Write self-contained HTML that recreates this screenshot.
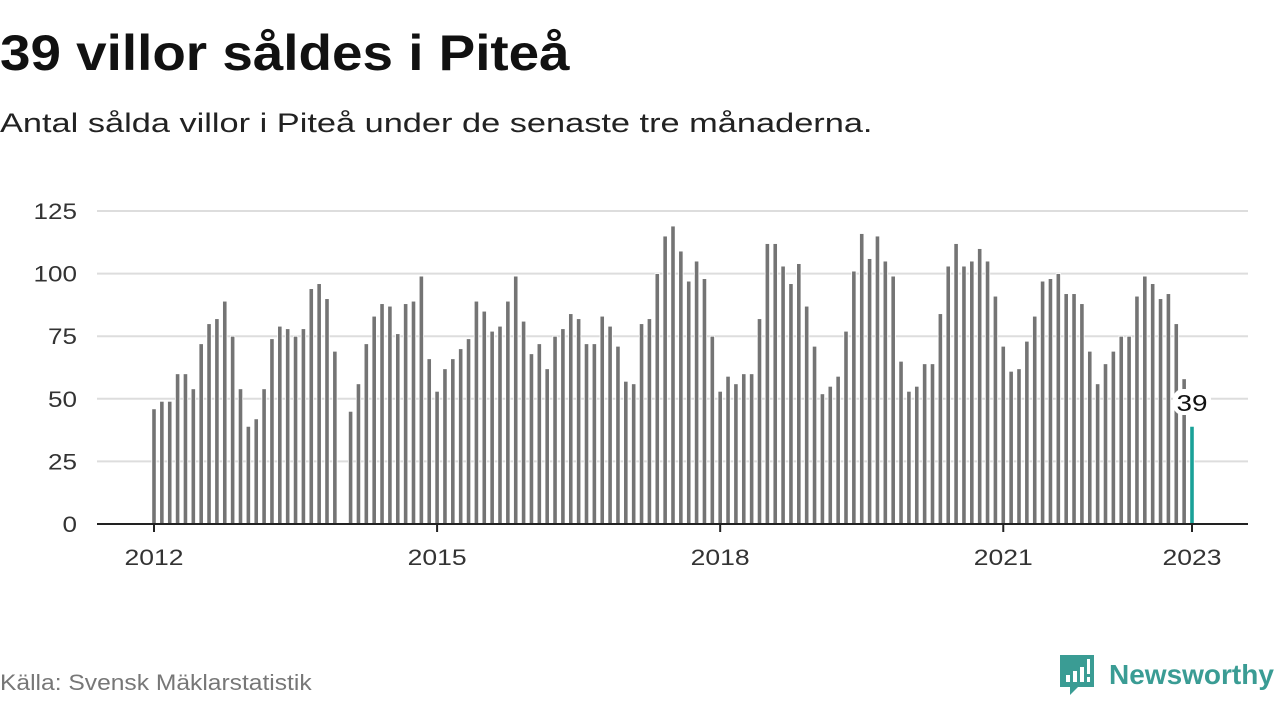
<!DOCTYPE html>
<html><head><meta charset="utf-8"><style>
body{margin:0;width:1280px;height:720px;background:#fff;font-family:"Liberation Sans","DejaVu Sans",sans-serif;overflow:hidden;position:relative}
.t{position:absolute;left:0;white-space:nowrap;transform-origin:0 0}
</style></head><body>
<div class="t" style="top:24px;font-size:50px;font-weight:bold;color:#111;transform:scaleX(1.096)">39 villor såldes i Piteå</div>
<div class="t" style="top:108px;font-size:27px;color:#222;transform:scaleX(1.272)">Antal sålda villor i Piteå under de senaste tre månaderna.</div>
<svg id="chart" width="1280" height="720" style="position:absolute;left:0;top:0"></svg>
<div class="t" style="top:670px;font-size:22px;color:#777;transform:scaleX(1.118)">Källa: Svensk Mäklarstatistik</div>
<div style="position:absolute;left:1060px;top:655px;display:flex;align-items:center">
<svg width="34" height="40"><path d="M0 0H34V32H18L10 40V32H0Z" fill="#3a9c94"/><rect x="6" y="20" width="4" height="7" fill="#fff"/><rect x="13" y="16" width="4" height="11" fill="#fff"/><rect x="20" y="12" width="4" height="15" fill="#fff"/><rect x="27" y="4" width="3" height="15" fill="#fff"/><rect x="27" y="22" width="3" height="5" fill="#fff"/></svg>
<span style="margin-left:15px;font-size:28px;font-weight:bold;color:#3a9c94;display:inline-block;white-space:nowrap">Newsworthy</span></div>
<script>
const startYear = 2012;
const values = [
46,49,49,60,60,54,72,80,82,89,75,54,
39,42,54,74,79,78,75,78,94,96,90,69,
0,45,56,72,83,88,87,76,88,89,99,66,
53,62,66,70,74,89,85,77,79,89,99,81,
68,72,62,75,78,84,82,72,72,83,79,71,
57,56,80,82,100,115,119,109,97,105,98,75,
53,59,56,60,60,82,112,112,103,96,104,87,
71,52,55,59,77,101,116,106,115,105,99,65,
53,55,64,64,84,103,112,103,105,110,105,91,
71,61,62,73,83,97,98,100,92,92,88,69,
56,64,69,75,75,91,99,96,90,92,80,58,
39];
const yTicks = [0,25,50,75,100,125];
const xTicks = [2012,2015,2018,2021,2023];
const svg = document.getElementById('chart');
const NS='http://www.w3.org/2000/svg';
const y0=524, pxPerUnit=(524-211)/125;
const x0=154, pxPerMonth=(1192-154)/132;
const yScale=v=>y0-v*pxPerUnit;
const xScale=i=>x0+i*pxPerMonth;
function mk(tag,attrs){const e=document.createElementNS(NS,tag);for(const k in attrs)e.setAttribute(k,attrs[k]);svg.appendChild(e);return e;}
yTicks.forEach(t=>{
  if(t>0){const g=mk('line',{x1:97,x2:1248,y1:yScale(t),y2:yScale(t),stroke:'#ddd','stroke-width':2});
  
  }
  const s=String(t);
  const l=mk('text',{x:77,y:yScale(t)+8,'text-anchor':'end','font-size':22,fill:'#333','font-family':'Liberation Sans, sans-serif',textLength:s.length*14.5,lengthAdjust:'spacingAndGlyphs'});
  l.textContent=s;
  
  
});
values.forEach((v,i)=>{
  if(v<=0)return;
  const last=i===values.length-1;
  const r=mk('rect',{x:xScale(i)-2.2,y:yScale(v),width:4.4,height:v*pxPerUnit,fill:last?'#1aa198':'#747474',stroke:'#fff','stroke-width':0.8});
  
  
});
const ax=mk('line',{x1:97,x2:1248,y1:y0,y2:y0,stroke:'#222','stroke-width':2});


xTicks.forEach(yr=>{
  const x=xScale((yr-startYear)*12);
  const tk=mk('line',{x1:x,x2:x,y1:y0,y2:y0+8,stroke:'#222','stroke-width':2});
  
  
  const l=mk('text',{x:x,y:565,'text-anchor':'middle','font-size':22,fill:'#333','font-family':'Liberation Sans, sans-serif',textLength:59,lengthAdjust:'spacingAndGlyphs'});
  l.textContent=yr;
  
  
});
const li=values.length-1;
const bg=mk('rect',{x:xScale(li)-19,y:389,width:38,height:26,rx:10,fill:'#fff'});


const vl=mk('text',{x:xScale(li),y:411,'text-anchor':'middle','font-size':23,fill:'#111','font-family':'Liberation Sans, sans-serif',textLength:31,lengthAdjust:'spacingAndGlyphs'});
vl.textContent=values[li];


</script>
</body></html>
